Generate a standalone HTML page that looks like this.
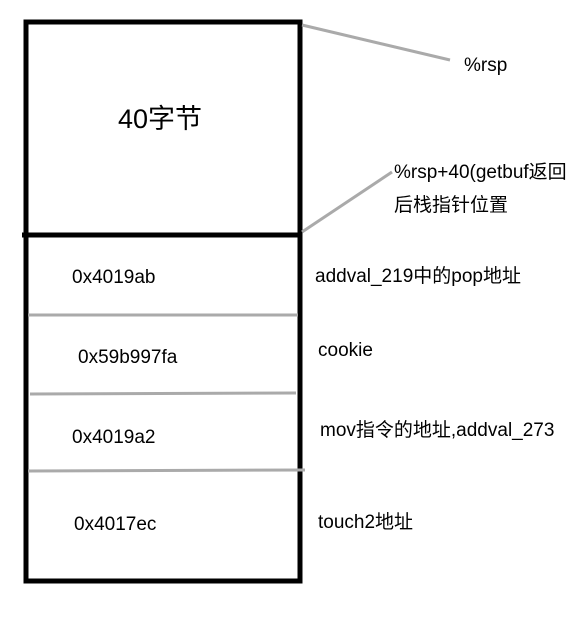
<!DOCTYPE html>
<html><head><meta charset="utf-8"><style>
body{margin:0;width:578px;height:637px;background:#fff;position:relative;overflow:hidden;font-family:"Liberation Sans","Noto Sans CJK SC",sans-serif;color:#000}
.t{position:absolute;font-size:19px;white-space:nowrap;line-height:1}
</style></head><body>
<svg width="578" height="637" style="position:absolute;left:0;top:0">
<rect x="26" y="22" width="274" height="559" fill="none" stroke="#000" stroke-width="5"/>
<line x1="22" y1="235" x2="302" y2="235" stroke="#000" stroke-width="5"/>
<line x1="28" y1="315" x2="298" y2="315" stroke="#aaa" stroke-width="3"/>
<line x1="30" y1="394" x2="296" y2="393" stroke="#aaa" stroke-width="3"/>
<line x1="28" y1="471" x2="305" y2="470" stroke="#aaa" stroke-width="3"/>
<line x1="302" y1="25" x2="450" y2="60" stroke="#aaa" stroke-width="3"/>
<line x1="302" y1="232" x2="392" y2="172" stroke="#aaa" stroke-width="3"/>
</svg>
<div class="t" style="left:118px;top:106px;font-size:27px">40字节</div>
<div class="t" style="left:464px;top:56px">%rsp</div>
<div class="t" style="left:394px;top:163px">%rsp+40(getbuf返回</div>
<div class="t" style="left:394px;top:196px">后栈指针位置</div>
<div class="t" style="left:72px;top:268px">0x4019ab</div>
<div class="t" style="left:315px;top:267px">addval_219中的pop地址</div>
<div class="t" style="left:78px;top:348px">0x59b997fa</div>
<div class="t" style="left:318px;top:341px">cookie</div>
<div class="t" style="left:72px;top:428px">0x4019a2</div>
<div class="t" style="left:320px;top:421px">mov指令的地址,addval_273</div>
<div class="t" style="left:74px;top:515px">0x4017ec</div>
<div class="t" style="left:318px;top:513px">touch2地址</div>
</body></html>
